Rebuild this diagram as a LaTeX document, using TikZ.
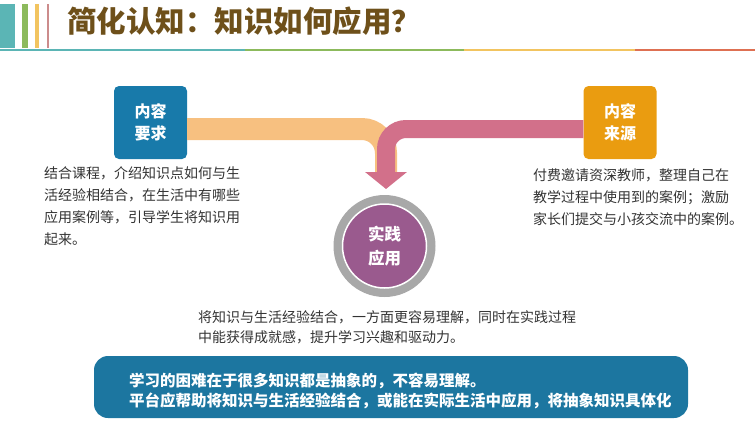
\documentclass[tikz,border=0pt]{standalone}
\usepackage{fontspec}
\setmainfont{Noto Sans CJK SC}
\usepackage{xcolor}
\usepackage{tikz}
\usetikzlibrary{arrows.meta}
\definecolor{hdteal}{RGB}{91, 181, 181}
\definecolor{hdgreen}{RGB}{140, 186, 92}
\definecolor{hdyellow}{RGB}{242, 196, 96}
\definecolor{hdpink}{RGB}{204, 140, 140}
\definecolor{hdred}{RGB}{222, 112, 82}
\definecolor{titlebrown}{RGB}{110, 80, 26}
\definecolor{boxblue}{RGB}{24, 122, 170}
\definecolor{boxorange}{RGB}{234, 156, 16}
\definecolor{bandorange}{RGB}{247, 192, 128}
\definecolor{bandpink}{RGB}{210, 112, 138}
\definecolor{ringgray}{RGB}{168, 168, 168}
\definecolor{appurple}{RGB}{154, 90, 142}
\definecolor{notegray}{RGB}{51, 51, 51}
\definecolor{footblue}{RGB}{28, 118, 160}

\begin{document}
\begin{tikzpicture}[x=1pt, y=-1pt,
  tagbox/.style={rounded corners=5pt, minimum width=73pt, minimum height=73pt,
    text=white, align=center, font=\bfseries\fontsize{16}{22}\selectfont},
  note/.style={anchor=north west, inner sep=0pt, align=left, text=notegray,
    font=\fontsize{14}{22}\selectfont},
  band/.style={line width=#1, rounded corners=24pt}]
\useasboundingbox (0,0) rectangle (755,424);

% Header
\fill[hdteal] (0,4) rectangle (15,48);
\fill[hdgreen] (22,4) rectangle (28,48);
\fill[hdyellow] (35,4) rectangle (39,48);
\fill[hdpink] (47,4) rectangle (49,48);
\fill[hdteal] (0,48.5) rectangle (245,51);
\fill[hdgreen] (245,48.5) rectangle (464,51);
\fill[hdyellow] (464,48.5) rectangle (635,51);
\fill[hdred] (635,48.5) rectangle (755,51);
\node[anchor=west, inner sep=0pt, text=titlebrown,
  font=\bfseries\fontsize{29.5}{32}\selectfont] (title) at (67,21.5) {简化认知：知识如何应用？};

% Boxes
\node[tagbox, fill=boxblue] (req) at (150.5,122.5) {内容\\要求};
\node[tagbox, fill=boxorange] (src) at (620,122.5) {内容\\来源};

% Flow
\coordinate (turn) at (386,129);
\coordinate (drop) at (386,172);
\coordinate (tip) at (386,189);
\draw[band=22pt, bandorange] (req.east |- turn) -- (turn) -- (drop);
\draw[band=18pt, bandpink, rounded corners=20pt, -{Triangle[width=41pt,length=17pt]}]
  (src.west |- turn) -- (turn) -- (tip);

% Practice circle
\node[circle, fill=ringgray, minimum size=102pt, inner sep=0pt] (ring) at (384.5,246) {};
\node[circle, fill=appurple, draw=white, line width=1.5pt, minimum size=84pt,
  inner sep=0pt, text=white, align=center,
  font=\bfseries\fontsize{16.5}{24}\selectfont] (app) at (ring) {实践\\应用};

% Notes
\node[note] (reqnote) at (44,166) {结合课程，介绍知识点如何与生\\活经验相结合，在生活中有哪些\\应用案例等，引导学生将知识用\\起来。};
\node[note] (srcnote) at (533,169) {付费邀请资深教师，整理自己在\\教学过程中使用到的案例；激励\\家长们提交与小孩交流中的案例。};
\node[note, font=\fontsize{14}{20}\selectfont] (appnote) at (198,310) {将知识与生活经验结合，一方面更容易理解，同时在实践过程\\中能获得成就感，提升学习兴趣和驱动力。};

% Footer
\fill[footblue, rounded corners=14pt] (94,356) rectangle (688,418);
\node[note, text=white, font=\bfseries\fontsize{15.5}{20}\selectfont] (foot) at (129,373) {学习的困难在于很多知识都是抽象的，不容易理解。\\平台应帮助将知识与生活经验结合，或能在实际生活中应用，将抽象知识具体化};
\end{tikzpicture}
\end{document}
